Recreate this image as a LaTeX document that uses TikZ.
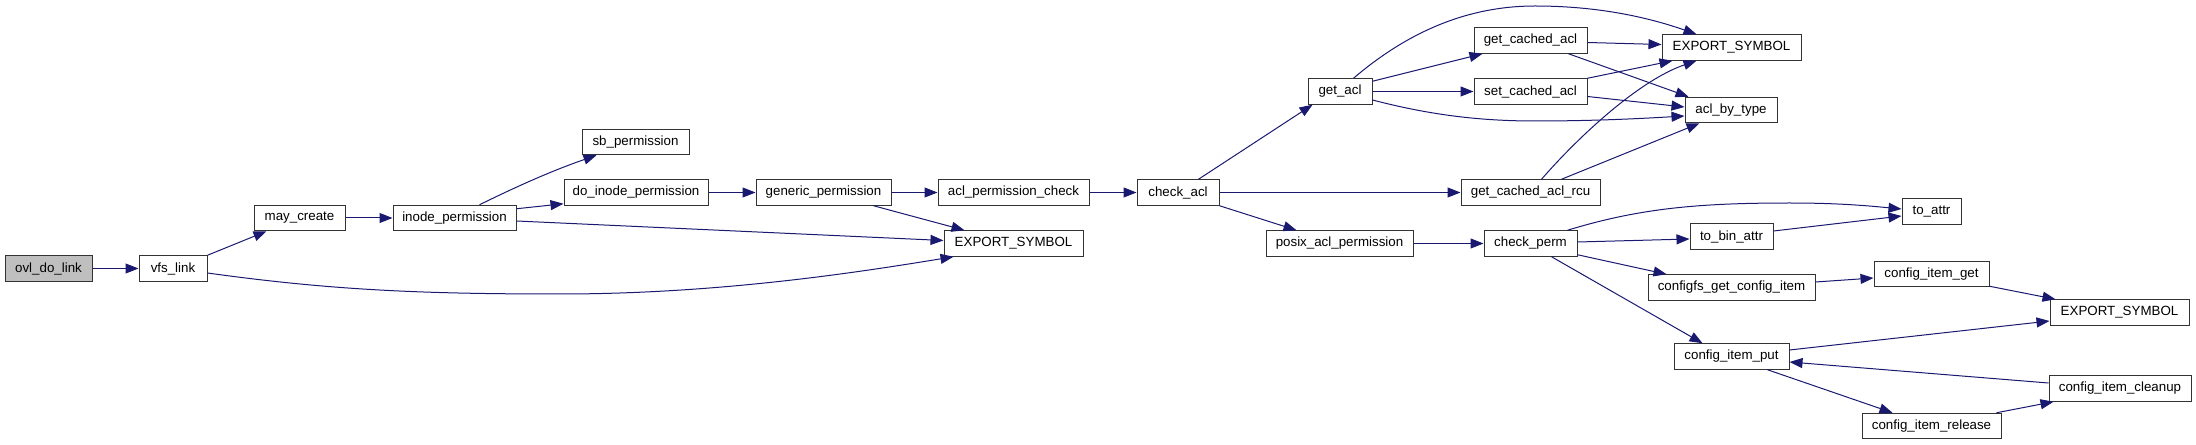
\documentclass[tikz,border=0pt]{standalone}
\usepackage{fontspec}
\setmainfont{Liberation Sans}
\usetikzlibrary{arrows.meta,calc}
\definecolor{edgecol}{HTML}{191970}
\definecolor{nodegray}{HTML}{BFBFBF}
\tikzset{
  fn/.style={draw=black!80, fill=white, line width=0.75pt, inner sep=0pt,
    minimum height=25.5*0.75pt, font=\fontsize{10}{12}\selectfont},
  bw/.style={minimum width=#1*0.75pt},
  rootfn/.style={fn, fill=nodegray},
  call/.style={draw=edgecol, line width=0.75pt,
    -{Triangle[length=9.75pt,width=7.5pt]}, edgecol},
}
\begin{document}
\begin{tikzpicture}[x=0.75pt,y=-0.75pt]
\useasboundingbox (0,0) rectangle (2196,445);
% nodes
\node[rootfn,bw=87] (ovl) at (48.5,268.5) {ovl\_do\_link};
\node[fn,bw=68] (vfs) at (173,268.5) {vfs\_link};
\node[fn,bw=91] (maycreate) at (299.5,218) {may\_create};
\node[fn,bw=123] (inodeperm) at (454.5,218) {inode\_permission};
\node[fn,bw=107] (sbperm) at (635.5,142) {sb\_permission};
\node[fn,bw=144] (doinode) at (636,192.5) {do\_inode\_permission};
\node[fn,bw=135] (generic) at (823.5,192.5) {generic\_permission};
\node[fn,bw=151] (aclpermcheck) at (1013.5,192.5) {acl\_permission\_check};
\node[fn,bw=139] (exp1) at (1013.5,243.5) {EXPORT\_SYMBOL};
\node[fn,bw=82] (checkacl) at (1178,192.5) {check\_acl};
\node[fn,bw=147] (posix) at (1339.5,243.5) {posix\_acl\_permission};
\node[fn,bw=64] (getacl) at (1340,91.5) {get\_acl};
\node[fn,bw=113] (getcached) at (1530.5,40.5) {get\_cached\_acl};
\node[fn,bw=113] (setcached) at (1530.5,91.5) {set\_cached\_acl};
\node[fn,bw=139] (rcu) at (1530.5,192.5) {get\_cached\_acl\_rcu};
\node[fn,bw=93] (checkperm) at (1530.5,243.5) {check\_perm};
\node[fn,bw=139] (exp2) at (1731.5,47.5) {EXPORT\_SYMBOL};
\node[fn,bw=92] (aclbytype) at (1731,110) {acl\_by\_type};
\node[fn,bw=83] (tobinattr) at (1731.5,236.5) {to\_bin\_attr};
\node[fn,bw=167] (configfs) at (1731.5,287.5) {configfs\_get\_config\_item};
\node[fn,bw=115] (itemput) at (1731.5,356.5) {config\_item\_put};
\node[fn,bw=59] (toattr) at (1931.5,211.5) {to\_attr};
\node[fn,bw=115] (itemget) at (1931.5,274) {config\_item\_get};
\node[fn,bw=139] (exp3) at (2119.5,312.5) {EXPORT\_SYMBOL};
\node[fn,bw=142] (cleanup) at (2120,388.5) {config\_item\_cleanup};
\node[fn,bw=139] (release) at (1931.5,426) {config\_item\_release};
% edges
\draw[call] (ovl.east) -- (vfs.west);
\draw[call] (vfs.north east) -- ($(maycreate.south west)+(13,0)$);
\draw[call] ($(vfs.east)+(0,4.5)$) .. controls (330,290) and (420,294) .. (560,294)
   .. controls (720,294) and (860,272) .. ($(exp1.south west)+(10,0)$);
\draw[call] (maycreate.east) -- (inodeperm.west);
\draw[call] ($(inodeperm.north west)+(87,0)$) .. controls (530,180) and (560,168) .. ($(sbperm.south west)+(15,0)$);
\draw[call] ($(inodeperm.north east)+(0,4)$) -- ($(doinode.south west)+(0,-2)$);
\draw[call] ($(inodeperm.east)+(0,3)$) -- ($(exp1.west)+(0,-3)$);
\draw[call] (doinode.east) -- (generic.west);
\draw[call] (generic.east) -- (aclpermcheck.west);
\draw[call] ($(generic.south east)+(-18,0)$) -- ($(exp1.north west)+(21,0)$);
\draw[call] (aclpermcheck.east) -- (checkacl.west);
\draw[call] ($(checkacl.north west)+(62,0)$) -- ($(getacl.south west)+(5,0)$);
\draw[call] (checkacl.east) -- (rcu.west);
\draw[call] (checkacl.south east) -- ($(posix.north west)+(31,0)$);
\draw[call] ($(getacl.north west)+(46,0)$) .. controls (1410,30) and (1470,6) .. (1535,6)
   .. controls (1600,6) and (1650,18) .. ($(exp2.north west)+(35,0)$);
\draw[call] ($(getacl.north east)+(0,3)$) -- ($(getcached.south west)+(9,0)$);
\draw[call] (getacl.east) -- (setcached.west);
\draw[call] ($(getacl.east)+(0,8.5)$) .. controls (1430,115) and (1480,121) .. (1535,121)
   .. controls (1600,121) and (1650,118) .. ($(aclbytype.west)+(0,6)$);
\draw[call] ($(getcached.east)+(0,2)$) -- ($(exp2.west)+(0,-3)$);
\draw[call] ($(getcached.south east)+(-19,0)$) -- ($(aclbytype.north west)+(4,0)$);
\draw[call] (setcached.north east) -- ($(exp2.south west)+(11,0)$);
\draw[call] ($(setcached.east)+(0,5)$) -- ($(aclbytype.west)+(0,-3)$);
\draw[call] ($(rcu.north west)+(81,0)$) .. controls (1580,135) and (1640,80) .. ($(exp2.south west)+(35,0)$);
\draw[call] ($(rcu.north west)+(101,0)$) -- ($(aclbytype.south west)+(15,0)$);
\draw[call] (posix.east) -- (checkperm.west);
\draw[call] ($(checkperm.north west)+(84,0)$) .. controls (1640,208) and (1700,203) .. (1790,203)
   .. controls (1840,203) and (1870,206) .. ($(toattr.west)+(0,-2.5)$);
\draw[call] ($(checkperm.east)+(0,-1.5)$) -- ($(tobinattr.west)+(0,2.5)$);
\draw[call] ($(checkperm.south east)+(0,-2)$) -- ($(configfs.north west)+(19,0)$);
\draw[call] ($(checkperm.south west)+(68,0)$) -- ($(itemput.north west)+(29,0)$);
\draw[call] ($(tobinattr.east)+(0,-5.5)$) -- ($(toattr.west)+(0,4.5)$);
\draw[call] ($(configfs.east)+(0,-5.5)$) -- ($(itemget.west)+(0,4)$);
\draw[call] ($(itemget.south east)+(0,-1)$) -- ($(exp3.north west)+(6,0)$);
\draw[call] ($(itemput.east)+(0,-6.5)$) -- ($(exp3.west)+(0,8.5)$);
\draw[call] ($(itemput.south west)+(94,0)$) -- ($(release.north west)+(31,0)$);
\draw[call] ($(release.north east)+(-5,0)$) -- ($(cleanup.south west)+(5,0)$);
\draw[call] ($(cleanup.west)+(0,-5.5)$) -- ($(itemput.east)+(0,5.5)$);
\end{tikzpicture}
\end{document}
